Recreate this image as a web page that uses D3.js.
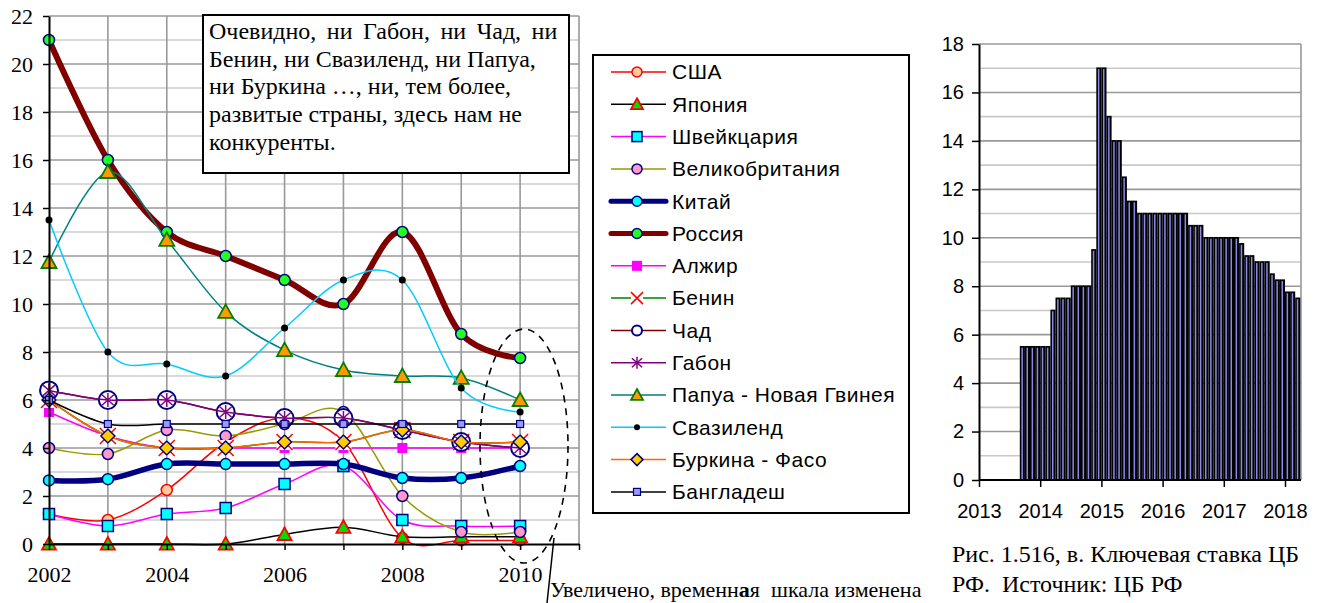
<!DOCTYPE html>
<html>
<head>
<meta charset="utf-8">
<script src="https://cdn.jsdelivr.net/npm/d3@7"></script>
<style>
  body { margin: 0; background: #fff; }
  svg { display: block; }
  .serif { font-family: "Liberation Serif", "Times New Roman", serif; }
  .sans { font-family: "Liberation Sans", Arial, sans-serif; }
</style>
</head>
<body>
<svg id="chart" width="1329" height="603"></svg>
<script>
// ---- Policy rates by country, 2002–2010 (%) ----
const years       = [2002, 2003, 2004, 2005, 2006, 2007, 2008, 2009, 2010];
const usa         = [1.25, 1.0, 2.25, 4.25, 5.25, 4.25, 0.25, 0.15, 0.15];
const japan       = [0, 0, 0, 0, 0.4, 0.7, 0.3, 0.3, 0.3];
const switzerland = [1.25, 0.75, 1.25, 1.5, 2.5, 3.25, 1.0, 0.75, 0.75];
const britain     = [4.0, 3.75, 4.75, 4.5, 5.0, 5.5, 2.0, 0.5, 0.5];
const china       = [2.65, 2.7, 3.33, 3.33, 3.33, 3.33, 2.75, 2.75, 3.25];
const russia      = [21, 16, 13, 12, 11, 10, 13, 8.75, 7.75];
const algeria     = [5.5, 4.5, 4.0, 4.0, 4.0, 4.0, 4.0, 4.0, 4.0];
const benin       = [6.0, 4.5, 4.0, 4.0, 4.25, 4.25, 4.75, 4.25, 4.25];
const chad        = [6.4, 6.0, 6.0, 5.5, 5.25, 5.25, 4.75, 4.25, 4.0];
const gabon       = [6.4, 6.0, 6.0, 5.5, 5.25, 5.25, 4.75, 4.25, 4.0];
const papua       = [11.75, 15.5, 12.67, 9.67, 8.08, 7.25, 7.0, 6.92, 6.0];
const swaziland   = [13.5, 8.0, 7.5, 7.0, 9.0, 11.0, 11.0, 6.5, 5.5];
const burkina     = [6.0, 4.5, 4.0, 4.0, 4.25, 4.25, 4.75, 4.25, 4.25];
const bangladesh  = [6.0, 5.0, 5.0, 5.0, 5.0, 5.0, 5.0, 5.0, 5.0];

const countryNames = ["США", "Япония", "Швейкцария", "Великобритания", "Китай", "Россия",
  "Алжир", "Бенин", "Чад", "Габон", "Папуа - Новая Гвинея", "Свазиленд", "Буркина - Фасо", "Бангладеш"];

const leftYTicks = [0, 2, 4, 6, 8, 10, 12, 14, 16, 18, 20, 22];
const leftXTicks = [2002, 2003, 2004, 2005, 2006, 2007, 2008, 2009, 2010, 2011];
const leftXLabels = [2002, 2004, 2006, 2008, 2010];

// ---- Bank of Russia key rate, monthly (%) ----
const rateMonths = [
  "2013-09","2013-10","2013-11","2013-12",
  "2014-01","2014-02","2014-03","2014-04","2014-05","2014-06","2014-07","2014-08","2014-09","2014-10","2014-11","2014-12",
  "2015-01","2015-02","2015-03","2015-04","2015-05","2015-06","2015-07","2015-08","2015-09","2015-10","2015-11","2015-12",
  "2016-01","2016-02","2016-03","2016-04","2016-05","2016-06","2016-07","2016-08","2016-09","2016-10","2016-11","2016-12",
  "2017-01","2017-02","2017-03","2017-04","2017-05","2017-06","2017-07","2017-08","2017-09","2017-10","2017-11","2017-12",
  "2018-01","2018-02","2018-03"];
const keyRate = [
  5.5, 5.5, 5.5, 5.5,
  5.5, 5.5, 7.0, 7.5, 7.5, 7.5, 8.0, 8.0, 8.0, 8.0, 9.5, 17,
  17, 15, 14, 14, 12.5, 11.5, 11.5, 11, 11, 11, 11, 11,
  11, 11, 11, 11, 11, 10.5, 10.5, 10.5, 10, 10, 10, 10,
  10, 10, 10, 9.75, 9.25, 9.25, 9, 9, 9, 8.5, 8.25, 8.25,
  7.75, 7.75, 7.5];
const rightYTicks = [0, 2, 4, 6, 8, 10, 12, 14, 16, 18];
const rightXTicks = [2013, 2014, 2015, 2016, 2017, 2018];

const svg = d3.select("#chart");

// ---------- series styles ----------
const seriesValues = [usa, japan, switzerland, britain, china, russia, algeria, benin, chad, gabon, papua, swaziland, burkina, bangladesh];
const styles = [
  { line: "#ff0000", w: 1.5, m: { type: "circle", r: 5.5, fill: "#ffcc99", stroke: "#ff0000", sw: 1.5 } },
  { line: "#000000", w: 1.5, m: { type: "triangle", r: 7, fill: "#00dd00", stroke: "#ff0000", sw: 1.8 } },
  { line: "#ff00ff", w: 1.5, m: { type: "square", r: 5.5, fill: "#00ffff", stroke: "#000080", sw: 1.5 } },
  { line: "#999900", w: 1.5, m: { type: "circle", r: 5.5, fill: "#ff99cc", stroke: "#000080", sw: 1.5 } },
  { line: "#000080", w: 5.5, m: { type: "circle", r: 5.5, fill: "#00ffff", stroke: "#000080", sw: 1.5 } },
  { line: "#800000", w: 6, m: { type: "circle", r: 5.5, fill: "#22ff22", stroke: "#000080", sw: 1.5 } },
  { line: "#ff00ff", w: 1.5, m: { type: "square", r: 5, fill: "#ff00ff", stroke: "none", sw: 0 } },
  { line: "#008000", w: 1.5, m: { type: "x", r: 8, fill: "#ffffff", stroke: "#ff0000", sw: 1.5 } },
  { line: "#800000", w: 1.5, m: { type: "circle", r: 9, fill: "#ffffff", stroke: "#000080", sw: 2 } },
  { line: "#800080", w: 1.5, m: { type: "star", r: 7, fill: "none", stroke: "#800080", sw: 1.5 } },
  { line: "#008080", w: 1.5, m: { type: "triangle", r: 7.5, fill: "#ff9900", stroke: "#008000", sw: 1.8 } },
  { line: "#00ccff", w: 1.5, m: { type: "dot", r: 3.5, fill: "#000000", stroke: "none", sw: 0 } },
  { line: "#ff6600", w: 1.5, m: { type: "diamond", r: 7, fill: "#ffcc00", stroke: "#000080", sw: 1.5 } },
  { line: "#000000", w: 1.5, m: { type: "square", r: 3.5, fill: "#9999ff", stroke: "#000080", sw: 1.2 } }
];
const legendMarkerR = [5, 6, 5, 5, 5, 5, 5, 6, 5, 6, 6, 3, 6, 3.5];

function drawMarker(g, cx, cy, m, r) {
  const s = r;
  const mg = g.append("g").attr("transform", `translate(${cx},${cy})`);
  switch (m.type) {
    case "circle":
    case "dot":
      mg.append("circle").attr("r", s).attr("fill", m.fill).attr("stroke", m.stroke).attr("stroke-width", m.sw);
      break;
    case "square":
      mg.append("rect").attr("x", -s).attr("y", -s).attr("width", 2 * s).attr("height", 2 * s)
        .attr("fill", m.fill).attr("stroke", m.stroke).attr("stroke-width", m.sw);
      break;
    case "triangle":
      mg.append("path").attr("d", `M0,${-s}L${s},${s * 0.8}L${-s},${s * 0.8}Z`)
        .attr("fill", m.fill).attr("stroke", m.stroke).attr("stroke-width", m.sw).attr("stroke-linejoin", "miter");
      break;
    case "diamond":
      mg.append("path").attr("d", `M0,${-s}L${s},0L0,${s}L${-s},0Z`)
        .attr("fill", m.fill).attr("stroke", m.stroke).attr("stroke-width", m.sw);
      break;
    case "x":
      mg.append("rect").attr("x", -s).attr("y", -s).attr("width", 2 * s).attr("height", 2 * s).attr("fill", m.fill);
      mg.append("path").attr("d", `M${-s},${-s}L${s},${s}M${s},${-s}L${-s},${s}`)
        .attr("stroke", m.stroke).attr("stroke-width", m.sw).attr("fill", "none");
      break;
    case "star":
      mg.append("path").attr("d", `M0,${-s}L0,${s}M${-s * 0.85},${-s * 0.75}L${s * 0.85},${s * 0.75}M${s * 0.85},${-s * 0.75}L${-s * 0.85},${s * 0.75}`)
        .attr("stroke", m.stroke).attr("stroke-width", m.sw).attr("fill", "none");
      break;
  }
}

// ---------- left chart: rates by country ----------
const xL = d3.scaleLinear().domain([2002, 2011]).range([49, 579]);
const yL = d3.scaleLinear().domain([0, 22]).range([544, 16]);

const gridL = svg.append("g");
d3.range(1, 23).forEach(v => {
  gridL.append("line").attr("x1", xL(2002)).attr("x2", xL(2011)).attr("y1", yL(v)).attr("y2", yL(v))
    .attr("stroke", v % 2 ? "#cccccc" : "#999999").attr("stroke-width", 1.6);
});
leftXTicks.slice(1).forEach(t => {
  gridL.append("line").attr("x1", xL(t)).attr("x2", xL(t)).attr("y1", yL(0)).attr("y2", yL(22))
    .attr("stroke", "#999999").attr("stroke-width", 1.6);
});

const lineGen = d3.line().curve(d3.curveCatmullRom.alpha(0));
const plotL = svg.append("g");
seriesValues.forEach((vals, i) => {
  const st = styles[i];
  const pts = years.map((yr, j) => [xL(yr), yL(vals[j])]);
  plotL.append("path").attr("d", lineGen(pts)).attr("fill", "none")
    .attr("stroke", st.line).attr("stroke-width", st.w).attr("stroke-linejoin", "round").attr("stroke-linecap", "round");
  pts.forEach(p => drawMarker(plotL, p[0], p[1], st.m, st.m.r));
});

// axes
const axisLY = svg.append("g").attr("transform", `translate(${xL(2002)},0)`)
  .call(d3.axisLeft(yL).tickValues(leftYTicks).tickSize(6).tickSizeOuter(0).tickPadding(10));
const axisLX = svg.append("g").attr("transform", `translate(0,${yL(0)})`)
  .call(d3.axisBottom(xL).tickValues(leftXTicks).tickSize(6).tickSizeOuter(0).tickPadding(16)
    .tickFormat(d => leftXLabels.includes(d) ? String(d) : ""));
[axisLY, axisLX].forEach(a => {
  a.select(".domain").attr("stroke", "#000").attr("stroke-width", 2);
  a.selectAll(".tick line").attr("stroke", "#000").attr("stroke-width", 1.5);
  a.selectAll(".tick text").attr("class", "serif").attr("font-size", 22).attr("fill", "#000");
});

// annotation box
const note = svg.append("g");
note.append("rect").attr("x", 203).attr("y", 15).attr("width", 366).attr("height", 158)
  .attr("fill", "#fff").attr("stroke", "#000").attr("stroke-width", 2);
const noteLines = ["Очевидно, ни Габон, ни Чад, ни", "Бенин, ни Свазиленд, ни Папуа,",
  "ни Буркина …, ни, тем более,", "развитые страны, здесь нам не", "конкуренты."];
const noteBase = [39, 67, 94, 122, 150];
noteLines.forEach((t, i) => {
  note.append("text").attr("class", "serif").attr("x", 209).attr("y", noteBase[i])
    .attr("font-size", 24).attr("word-spacing", i === 0 ? 4.5 : 0).text(t);
});

// dashed ellipse marking the last points and its caption
svg.append("ellipse").attr("cx", 524).attr("cy", 446).attr("rx", 44).attr("ry", 117)
  .attr("fill", "none").attr("stroke", "#000").attr("stroke-width", 1.6).attr("stroke-dasharray", "7,6");
svg.append("line").attr("x1", 547).attr("y1", 603).attr("x2", 554).attr("y2", 538)
  .attr("stroke", "#000").attr("stroke-width", 1.5);
const cap = svg.append("text").attr("class", "serif").attr("x", 550).attr("y", 597)
  .attr("font-size", 22).style("white-space", "pre");
cap.append("tspan").text("Увеличено, временн");
cap.append("tspan").attr("font-weight", "bold").text("а");
cap.append("tspan").text("я  шкала изменена");

// legend
const leg = svg.append("g");
leg.append("rect").attr("x", 593).attr("y", 55).attr("width", 316).attr("height", 458)
  .attr("fill", "#fff").attr("stroke", "#000").attr("stroke-width", 2);
countryNames.forEach((name, i) => {
  const cy = 72 + i * 32.3;
  const st = styles[i];
  leg.append("line").attr("x1", 611).attr("x2", 666).attr("y1", cy).attr("y2", cy)
    .attr("stroke", st.line).attr("stroke-width", st.w >= 5 ? 5 : 1.5).attr("stroke-linecap", st.w >= 5 ? "round" : "butt");
  drawMarker(leg, 637, cy, st.m, legendMarkerR[i]);
  leg.append("text").attr("class", "sans").attr("x", 672).attr("y", cy).attr("dy", "0.35em")
    .attr("font-size", 21).attr("letter-spacing", 0.5).text(name);
});

// ---------- right chart: key rate ----------
const xR = d3.scaleLinear().domain([2013, 2018]).range([979, 1285]);
const yR = d3.scaleLinear().domain([0, 18]).range([480, 44]);
const rightEdge = 1301;

const gridR = svg.append("g");
d3.range(1, 19).forEach(v => {
  gridR.append("line").attr("x1", xR(2013)).attr("x2", rightEdge).attr("y1", yR(v)).attr("y2", yR(v))
    .attr("stroke", v % 2 ? "#c8c8c8" : "#999999").attr("stroke-width", 1.6);
});
gridR.append("line").attr("x1", rightEdge).attr("x2", rightEdge).attr("y1", yR(0)).attr("y2", yR(18))
  .attr("stroke", "#999999").attr("stroke-width", 1.6);

// each month: a black column with a narrow blue highlight stripe
const monthPos = s => { const [y, m] = s.split("-").map(Number); return y + (m - 1) / 12; };
const bars = svg.append("g");
rateMonths.forEach((mo, i) => {
  const x0 = xR(monthPos(mo));
  const x1 = xR(monthPos(mo) + 1 / 12);
  const top = yR(keyRate[i]);
  bars.append("rect").attr("x", x0).attr("y", top - 0.8)
    .attr("width", x1 - x0).attr("height", yR(0) - top + 0.8).attr("fill", "#000");
  bars.append("rect").attr("x", x0 + 1.6).attr("y", top + 0.9)
    .attr("width", 1.5).attr("height", yR(0) - top - 0.9).attr("fill", "#8a8ae6");
});

const axisRY = svg.append("g").attr("transform", `translate(${xR(2013)},0)`)
  .call(d3.axisLeft(yR).tickValues(rightYTicks).tickSize(7).tickSizeOuter(0).tickPadding(8));
const axisRX = svg.append("g").attr("transform", `translate(0,${yR(0)})`)
  .call(d3.axisBottom(xR).tickValues(rightXTicks).tickSize(7).tickSizeOuter(0).tickPadding(17).tickFormat(d3.format("d")));
axisRX.select(".domain").attr("d", `M${xR(2013)},0H${rightEdge}`);
[axisRY, axisRX].forEach(a => {
  a.select(".domain").attr("stroke", "#000").attr("stroke-width", 2);
  a.selectAll(".tick line").attr("stroke", "#000").attr("stroke-width", 1.5);
  a.selectAll(".tick text").attr("class", "sans").attr("font-size", 20).attr("fill", "#000");
});

svg.append("text").attr("class", "serif").attr("x", 952).attr("y", 562).attr("font-size", 24)
  .text("Рис. 1.516, в. Ключевая ставка ЦБ");
svg.append("text").attr("class", "serif").attr("x", 952).attr("y", 592).attr("font-size", 24)
  .style("white-space", "pre").text("РФ.  Источник: ЦБ РФ");
</script>
</body>
</html>
